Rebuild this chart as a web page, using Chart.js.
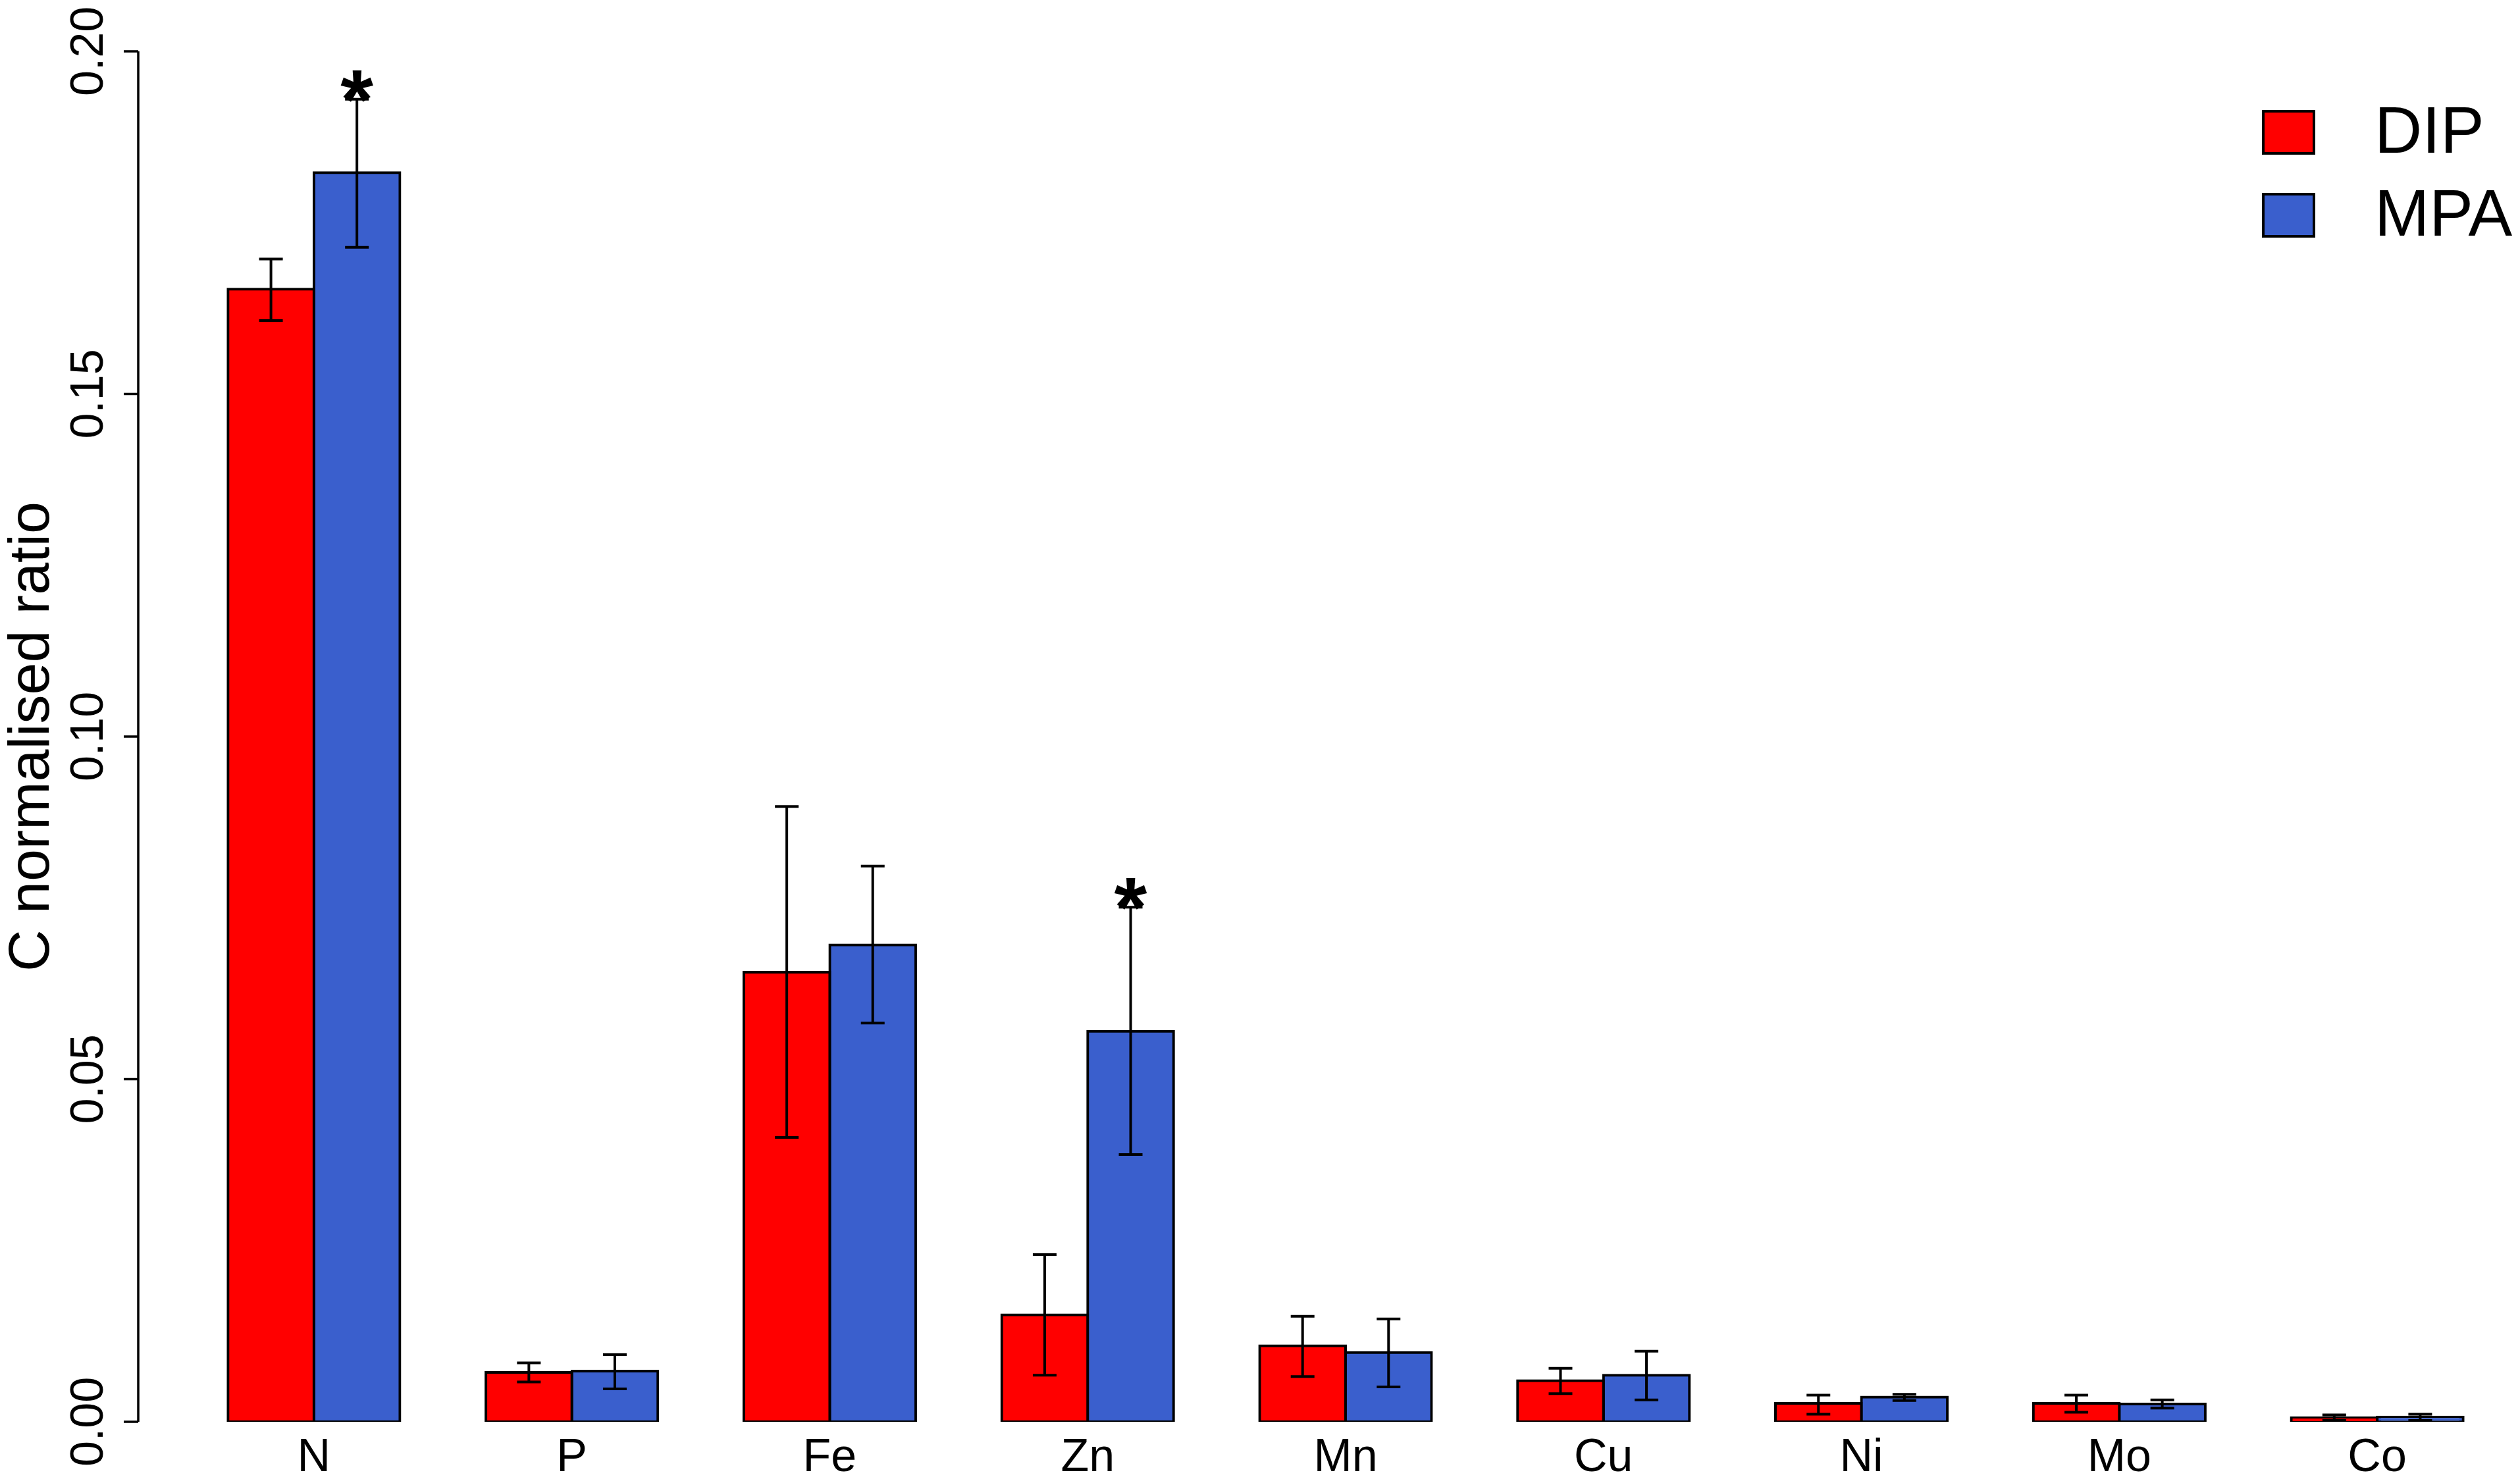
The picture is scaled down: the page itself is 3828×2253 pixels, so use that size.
<!DOCTYPE html>
<html>
<head>
<meta charset="utf-8">
<script src="https://cdn.jsdelivr.net/npm/chart.js@4.4.1/dist/chart.umd.min.js"></script>
<style>
    html, body { margin: 0; padding: 0; background: #fff; }
    canvas { display: block; }
</style>
</head>
<body>
<canvas id="chart" width="3828" height="2253" style="width:3828px;height:2253px"></canvas>
<script>
// values
const elements = ["N", "P", "Fe", "Zn", "Mn", "Cu", "Ni", "Mo", "Co"]
const seriesNames = ["DIP", "MPA"]
const seriesColors = ["#ff0000", "#3a5fcd"]

const dipValues = [0.1653, 0.0072, 0.0656, 0.0156, 0.0111, 0.0060, 0.0027, 0.0027, 0.0006]
const dipLow = [0.1607, 0.0058, 0.0415, 0.0068, 0.0066, 0.0041, 0.0011, 0.0014, 0.0002]
const dipHigh = [0.1697, 0.0086, 0.0898, 0.0244, 0.0154, 0.0078, 0.0039, 0.0039, 0.0010]

const mpaValues = [0.1823, 0.0074, 0.0696, 0.0570, 0.0101, 0.0068, 0.0036, 0.0026, 0.0007]
const mpaLow = [0.1714, 0.0048, 0.0582, 0.0390, 0.0051, 0.0032, 0.0031, 0.0020, 0.0002]
const mpaHigh = [0.1930, 0.0098, 0.0811, 0.0751, 0.0150, 0.0103, 0.0040, 0.0032, 0.0011]
const mpaSignif = ["*", "", "", "*", "", "", "", "", ""]

const yTicks = [0, 0.05, 0.10, 0.15, 0.20]
const yTitle = "C normalised ratio"

Chart.defaults.font.family = "'Liberation Sans', Arial, Helvetica, sans-serif"
Chart.defaults.color = "#000"

// error bars + significance stars
const errorBarPlugin = {
    id: "errorBars",
    afterDatasetsDraw(chart) {
        const ctx = chart.ctx
        const yScale = chart.scales.y
        ctx.save()
        ctx.strokeStyle = "#000"
        ctx.lineWidth = 4
        chart.data.datasets.forEach((ds, i) => {
            const meta = chart.getDatasetMeta(i)
            meta.data.forEach((bar, j) => {
                const top = yScale.getPixelForValue(ds.errHigh[j])
                const bottom = yScale.getPixelForValue(ds.errLow[j])
                ctx.beginPath()
                ctx.moveTo(bar.x, top)
                ctx.lineTo(bar.x, bottom)
                ctx.moveTo(bar.x - 18, top)
                ctx.lineTo(bar.x + 18, top)
                ctx.moveTo(bar.x - 18, bottom)
                ctx.lineTo(bar.x + 18, bottom)
                ctx.stroke()

                if (ds.signif && ds.signif[j]) {
                    ctx.fillStyle = "#000"
                    ctx.font = "bold 128px 'Liberation Sans', Arial, sans-serif"
                    ctx.textAlign = "center"
                    ctx.textBaseline = "alphabetic"
                    ctx.fillText(ds.signif[j], bar.x, top + 44)
                }
            })
        })
        ctx.restore()
    }
}

// R style y axis: line only between first and last tick, set off from the bars
const rAxisPlugin = {
    id: "rAxis",
    afterDraw(chart) {
        const ctx = chart.ctx
        const yScale = chart.scales.y
        const axisX = chart.chartArea.left - 71
        ctx.save()
        ctx.strokeStyle = "#000"
        ctx.lineWidth = 3.5
        ctx.beginPath()
        ctx.moveTo(axisX, yScale.getPixelForValue(yTicks[0]))
        ctx.lineTo(axisX, yScale.getPixelForValue(yTicks[yTicks.length - 1]))
        yTicks.forEach(t => {
            const py = yScale.getPixelForValue(t)
            ctx.moveTo(axisX - 22, py)
            ctx.lineTo(axisX, py)
        })
        ctx.stroke()
        ctx.restore()
    }
}

const legendPlugin = {
    id: "boxLegend",
    afterDraw(chart) {
        const ctx = chart.ctx
        ctx.save()
        ctx.font = "100px 'Liberation Sans', Arial, sans-serif"
        ctx.textBaseline = "middle"
        ctx.textAlign = "left"
        chart.data.datasets.forEach((ds, i) => {
            const cy = 201 + i * 126
            ctx.fillStyle = ds.backgroundColor
            ctx.fillRect(3438, cy - 32, 77, 64)
            ctx.lineWidth = 4
            ctx.strokeStyle = "#000"
            ctx.strokeRect(3438, cy - 32, 77, 64)
            ctx.fillStyle = "#000"
            ctx.fillText(ds.label, 3607, cy + 3)
        })
        ctx.restore()
    }
}

const ctx = document.getElementById("chart").getContext("2d")
const chart = new Chart(ctx, {
    type: "bar",
    data: {
        labels: elements,
        datasets: [
            {
                label: seriesNames[0],
                data: dipValues,
                errLow: dipLow,
                errHigh: dipHigh,
                backgroundColor: seriesColors[0]
            },
            {
                label: seriesNames[1],
                data: mpaValues,
                errLow: mpaLow,
                errHigh: mpaHigh,
                signif: mpaSignif,
                backgroundColor: seriesColors[1]
            }
        ]
    },
    options: {
        responsive: false,
        animation: false,
        layout: {
            padding: { top: 78, right: 21, bottom: 0, left: 0 }
        },
        datasets: {
            bar: {
                borderColor: "#000",
                borderWidth: 4,
                borderSkipped: false,
                inflateAmount: 2,
                categoryPercentage: 2 / 3,
                barPercentage: 1
            }
        },
        plugins: {
            legend: { display: false },
            tooltip: { enabled: false }
        },
        scales: {
            x: {
                grid: { display: false, drawTicks: false },
                border: { display: false },
                ticks: {
                    font: { size: 70 },
                    padding: 14,
                    maxRotation: 0,
                    autoSkip: false
                },
                afterFit: scale => {
                    scale.height = 93
                    scale.paddingLeft = 0
                    scale.paddingRight = 0
                }
            },
            y: {
                min: 0,
                max: 0.2,
                grid: { display: false, drawTicks: false },
                border: { display: false },
                afterBuildTicks: scale => {
                    scale.ticks = yTicks.map(v => ({ value: v }))
                },
                ticks: {
                    font: { size: 70 },
                    minRotation: 90,
                    maxRotation: 90,
                    crossAlign: "center",
                    padding: 76,
                    autoSkip: false,
                    callback: value => value.toFixed(2)
                },
                title: {
                    display: true,
                    text: yTitle,
                    font: { size: 88, lineHeight: 1.125 },
                    padding: 0
                },
                afterFit: scale => {
                    scale.width = 281
                    scale.paddingTop = 0
                    scale.paddingBottom = 0
                }
            }
        }
    },
    plugins: [errorBarPlugin, rAxisPlugin, legendPlugin]
})
</script>
</body>
</html>
